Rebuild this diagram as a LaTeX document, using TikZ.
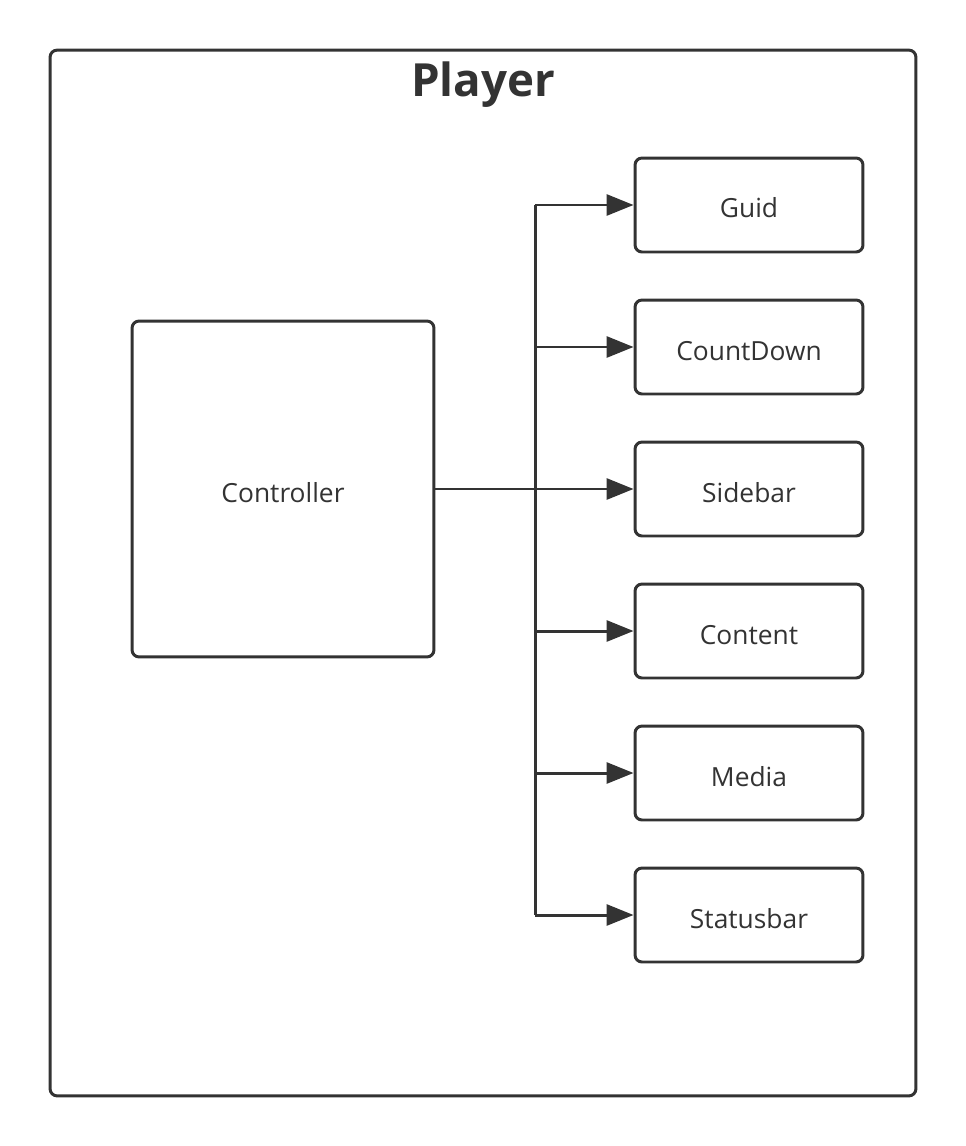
\documentclass[tikz,border=0pt]{standalone}
\usepackage{fontspec}
\setmainfont{Open Sans}
\usetikzlibrary{arrows.meta}
\definecolor{ink}{HTML}{333333}
\begin{document}
\begin{tikzpicture}[x=0.02cm,y=-0.02cm,
    box/.style={draw=ink,line width=1.7pt,rounded corners=4pt,fill=white,
                text=ink,text height=0.52cm,text depth=0pt,
                font=\fontsize{15}{18}\selectfont},
    part/.style={box,minimum width=4.56cm,minimum height=1.88cm},
    link/.style={ink,line width=1.7pt},
    arr/.style={link,-{Triangle[length=0.54cm,width=0.42cm]}}]
  \useasboundingbox (0,0) rectangle (966,1146);
  %-------------------------------------------------- frame
  \node[box,minimum width=17.32cm,minimum height=20.92cm] (player) at (483,573) {};
  \node[text=ink,font=\fontsize{26}{30}\selectfont\bfseries] (title) at (483,85) {Player};
  %-------------------------------------------------- controller
  \node[box,minimum width=6.04cm,minimum height=6.72cm] (ctrl) at (283,489) {Controller};
  %-------------------------------------------------- parts
  \foreach \i/\txt in {1/Guid,2/CountDown,3/Sidebar,4/Content,5/Media,6/Statusbar}{
    \node[part] (m\i) at (749,{63+142*\i}) {\txt};
    \coordinate (j\i) at (535,{63+142*\i});
  }
  \draw[link] (j1) -- (j6);
  \foreach \i in {1,2,4,5,6}{
    \draw[arr] (j\i) -- (m\i);
  }
  \draw[arr] (ctrl) -- (m3);
\end{tikzpicture}
\end{document}
